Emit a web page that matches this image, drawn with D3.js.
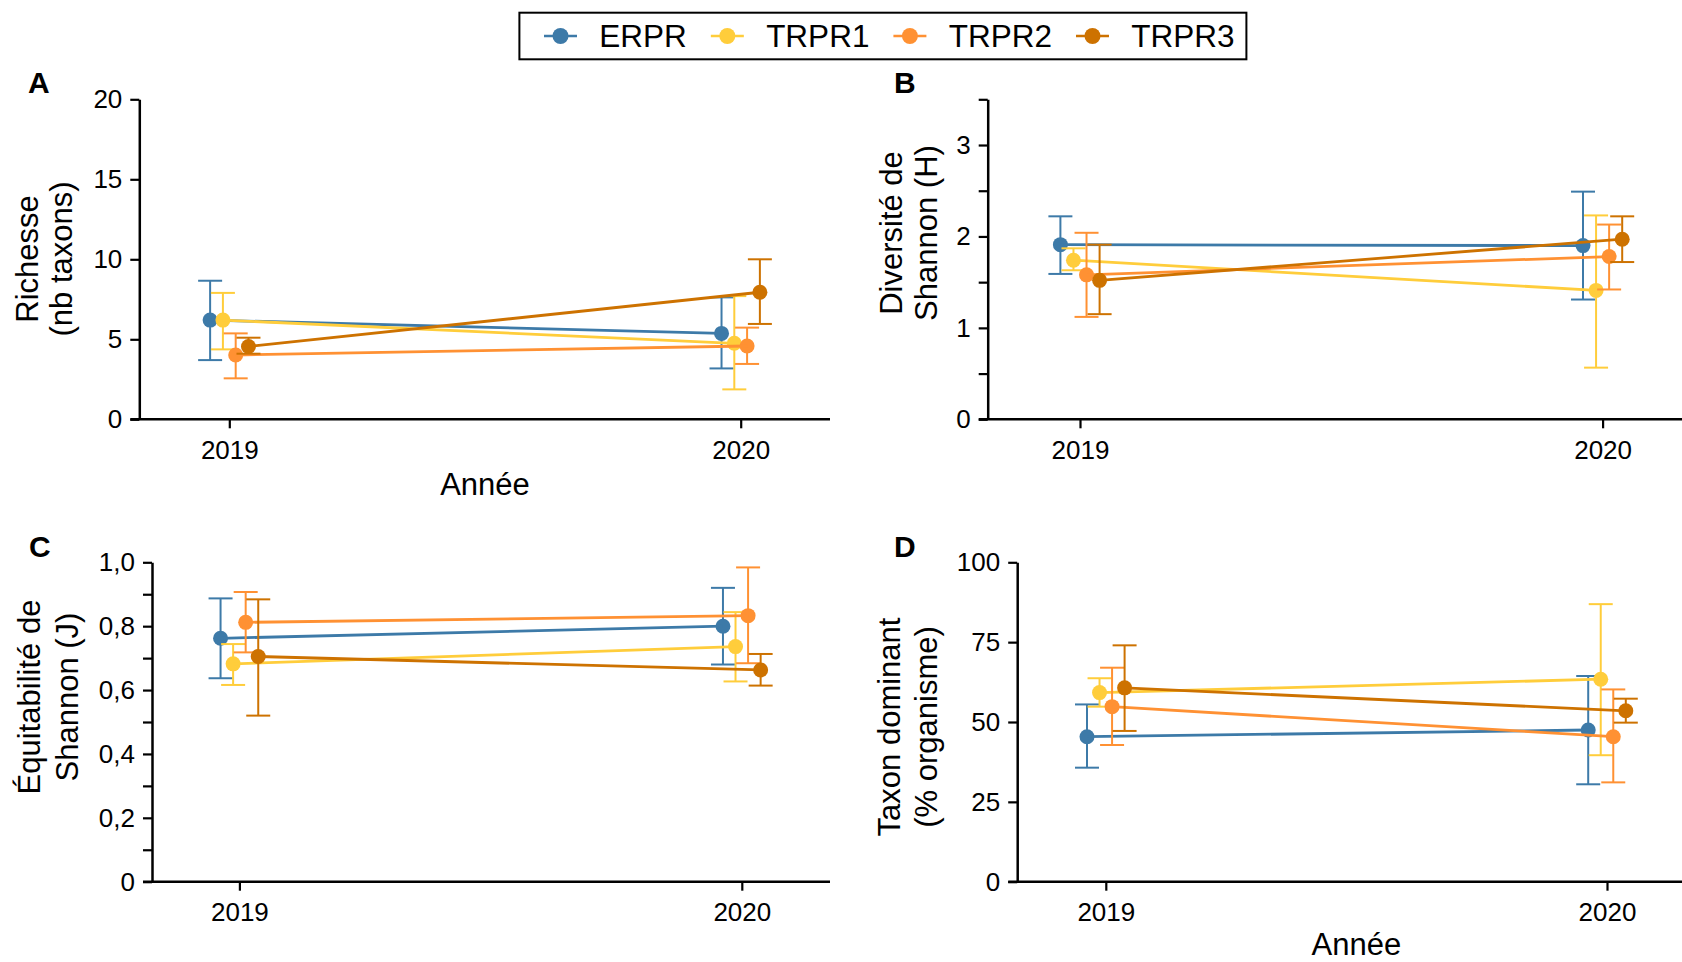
<!DOCTYPE html>
<html>
<head>
<meta charset="utf-8">
<script src="https://cdn.jsdelivr.net/npm/d3@7"></script>
<style>
	body { margin: 0; background: #fff; }
	svg { display: block; font-family: "Liberation Sans", Arial, sans-serif; }
</style>
</head>
<body>
<div id="chart"></div>
<script>
const years = [2019, 2020];
const sites = ["ERPR", "TRPR1", "TRPR2", "TRPR3"];
const siteColors = ["#3D7AA8", "#FFCD3B", "#FF9133", "#CD7200"];

// A: richesse (one row per site, one value per year)
const richMean = [[6.2, 5.37], [6.2, 4.75], [4.02, 4.58], [4.55, 7.94]];
const richLow = [[3.7, 3.18], [4.37, 1.87], [2.56, 3.46], [4.1, 5.96]];
const richHigh = [[8.66, 7.62], [7.9, 7.7], [5.37, 5.73], [5.1, 10.0]];

// B: diversite de Shannon (H)
const shanMean = [[1.91, 1.90], [1.74, 1.41], [1.58, 1.78], [1.52, 1.97]];
const shanLow = [[1.59, 1.31], [1.63, 0.565], [1.12, 1.42], [1.15, 1.72]];
const shanHigh = [[2.22, 2.49], [1.87, 2.23], [2.04, 2.13], [1.91, 2.22]];

// C: equitabilite de Shannon (J)
const equiMean = [[0.762, 0.80], [0.682, 0.736], [0.812, 0.833], [0.705, 0.663]];
const equiLow = [[0.637, 0.68], [0.616, 0.627], [0.718, 0.684], [0.52, 0.614]];
const equiHigh = [[0.887, 0.92], [0.744, 0.844], [0.907, 0.984], [0.884, 0.713]];

// D: taxon dominant (%)
const domMean = [[45.4, 47.5], [59.2, 63.4], [54.8, 45.4], [60.7, 53.5]];
const domLow = [[35.7, 30.5], [54.8, 39.6], [42.8, 31.1], [47.2, 49.8]];
const domHigh = [[55.5, 64.4], [63.7, 86.9], [67.0, 60.2], [74.0, 57.3]];

const commaFmt = d => d === 0 ? "0" : d.toFixed(1).replace(".", ",");

const panels = [
	{ letter: "A", mean: richMean, lo: richLow, hi: richHigh, domain: [0, 20],
		major: [0, 5, 10, 15, 20], minor: [], fmt: d3.format("d"),
		yAxisX: 139.3, top: 99.3, bottom: 419.3, x0: 229.3, x1: 740.7, xEnd: 830,
		title: ["Richesse", "(nb taxons)"], titleX: [27, 61.6], titleY: 259,
		letterX: 28, letterY: 93, xlab: 495 },
	{ letter: "B", mean: shanMean, lo: shanLow, hi: shanHigh, domain: [0, 3.5],
		major: [0, 1, 2, 3], minor: [0.5, 1.5, 2.5, 3.5], fmt: d3.format("d"),
		yAxisX: 987.7, top: 99.3, bottom: 419.3, x0: 1080, x1: 1602.6, xEnd: 1682,
		title: ["Diversité de", "Shannon (H)"], titleX: [891, 926], titleY: 233,
		letterX: 894, letterY: 93, xlab: null },
	{ letter: "C", mean: equiMean, lo: equiLow, hi: equiHigh, domain: [0, 1],
		major: [0, 0.2, 0.4, 0.6, 0.8, 1.0], minor: [0.1, 0.3, 0.5, 0.7, 0.9], fmt: commaFmt,
		yAxisX: 152, top: 562.3, bottom: 881.7, x0: 239.4, x1: 741.8, xEnd: 830,
		title: ["Équitabilité de", "Shannon (J)"], titleX: [29.5, 67], titleY: 697,
		letterX: 29, letterY: 556.7, xlab: null },
	{ letter: "D", mean: domMean, lo: domLow, hi: domHigh, domain: [0, 100],
		major: [0, 25, 50, 75, 100], minor: [], fmt: d3.format("d"),
		yAxisX: 1017.2, top: 562.3, bottom: 881.7, x0: 1105.8, x1: 1607, xEnd: 1682,
		title: ["Taxon dominant", "(% organisme)"], titleX: [889.4, 926], titleY: 727,
		letterX: 894, letterY: 556.7, xlab: 955 },
];

const width = 1682;
const height = 962;
const dodge = 0.025; // in year units per site
const capHalf = 12;

const svg = d3.select("#chart")
	.append("svg")
	.attr("width", width)
	.attr("height", height);

for (const p of panels) {
	const g = svg.append("g");
	const x = d3.scaleLinear().domain(years).range([p.x0, p.x1]);
	const y = d3.scaleLinear().domain(p.domain).range([p.bottom, p.top]);
	const xd = (year, i) => x(year + (i - 1.5) * dodge);

	// y axis
	const yAx = g.append("g")
		.attr("transform", `translate(${p.yAxisX},0)`)
		.call(d3.axisLeft(y).tickValues(p.major).tickFormat(p.fmt)
			.tickSize(9).tickPadding(8).tickSizeOuter(0));
	if (p.minor.length) {
		g.append("g")
			.attr("transform", `translate(${p.yAxisX},0)`)
			.call(d3.axisLeft(y).tickValues(p.minor).tickFormat("").tickSize(9).tickSizeOuter(0))
			.select(".domain").remove();
	}
	g.selectAll(".domain").attr("stroke-width", 2.5);
	g.selectAll(".tick line").attr("stroke-width", 2.2);
	yAx.selectAll("text").attr("font-size", 26).attr("fill", "#000");

	// x axis
	const xAx = g.append("g")
		.attr("transform", `translate(0,${p.bottom})`)
		.call(d3.axisBottom(x).tickValues(years).tickFormat(d3.format("d"))
			.tickSize(9).tickPadding(12).tickSizeOuter(0));
	xAx.select(".domain").remove();
	xAx.selectAll(".tick line").attr("stroke-width", 2.2);
	xAx.selectAll("text").attr("font-size", 26).attr("fill", "#000");
	g.append("line")
		.attr("x1", p.yAxisX - 9).attr("x2", p.xEnd)
		.attr("y1", p.bottom).attr("y2", p.bottom)
		.attr("stroke", "#000").attr("stroke-width", 2.5);

	// titles
	p.title.forEach((t, k) => {
		g.append("text")
			.attr("transform", `translate(${p.titleX[k]},${p.titleY}) rotate(-90)`)
			.attr("text-anchor", "middle")
			.attr("dominant-baseline", "central")
			.attr("font-size", 31)
			.text(t);
	});
	g.append("text")
		.attr("x", p.letterX).attr("y", p.letterY)
		.attr("font-size", 30).attr("font-weight", "bold")
		.text(p.letter);
	if (p.xlab) {
		g.append("text")
			.attr("x", (p.x0 + p.x1) / 2).attr("y", p.xlab)
			.attr("text-anchor", "middle")
			.attr("font-size", 31)
			.text("Année");
	}

	// series
	sites.forEach((s, i) => {
		const col = siteColors[i];
		const pts = years.map((yr, j) => ({ yr, m: p.mean[i][j], lo: p.lo[i][j], hi: p.hi[i][j] }));
		const sg = g.append("g");
		sg.selectAll("line.err")
			.data(pts).enter().append("line")
			.attr("x1", d => xd(d.yr, i)).attr("x2", d => xd(d.yr, i))
			.attr("y1", d => y(d.lo)).attr("y2", d => y(d.hi))
			.attr("stroke", col).attr("stroke-width", 2);
		for (const key of ["lo", "hi"]) {
			sg.selectAll(`line.cap-${key}`)
				.data(pts).enter().append("line")
				.attr("x1", d => xd(d.yr, i) - capHalf).attr("x2", d => xd(d.yr, i) + capHalf)
				.attr("y1", d => y(d[key])).attr("y2", d => y(d[key]))
				.attr("stroke", col).attr("stroke-width", 2);
		}
		sg.selectAll("circle")
			.data(pts).enter().append("circle")
			.attr("cx", d => xd(d.yr, i)).attr("cy", d => y(d.m))
			.attr("r", 7.5).attr("fill", col);
		sg.append("path")
			.datum(pts)
			.attr("fill", "none").attr("stroke", col).attr("stroke-width", 2.8)
			.attr("d", d3.line().x(d => xd(d.yr, i)).y(d => y(d.m)));
	});
}

// legend
const legend = svg.append("g");
legend.append("rect")
	.attr("x", 519.4).attr("y", 12.7)
	.attr("width", 727).attr("height", 46.6)
	.attr("fill", "#fff").attr("stroke", "#000").attr("stroke-width", 2);
let lx = 544;
sites.forEach((s, i) => {
	const it = legend.append("g").attr("transform", `translate(${lx},36)`);
	it.append("line").attr("x1", 0).attr("x2", 33)
		.attr("stroke", siteColors[i]).attr("stroke-width", 2.6);
	it.append("circle").attr("cx", 16.5).attr("r", 8).attr("fill", siteColors[i]);
	const t = it.append("text").attr("x", 55.3).attr("dy", "0.36em")
		.attr("font-size", 31.5).text(s);
	lx += 55.3 + t.node().getComputedTextLength() + 24;
});
</script>
</body>
</html>
